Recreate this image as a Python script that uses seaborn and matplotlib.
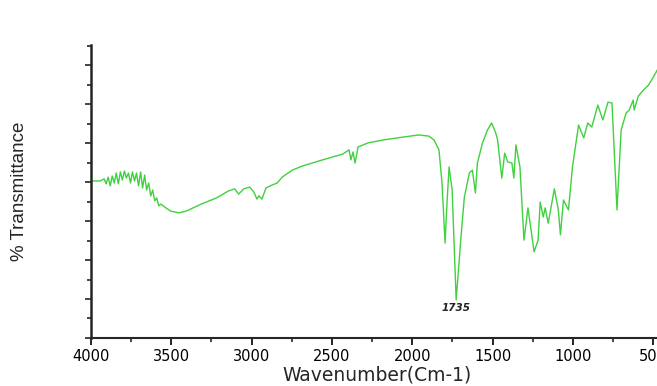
import numpy as np
import pandas as pd
import seaborn as sns
import matplotlib.pyplot as plt

# FTIR spectrum
wavenumber = [4000, 3943, 3918, 3906, 3893, 3880, 3868, 3855, 3843, 3830, 3817, 3805, 3792, 3780,
              3767, 3754, 3742, 3729, 3717, 3704, 3691, 3679, 3666, 3654, 3641, 3628, 3616, 3603,
              3591, 3578, 3565, 3534, 3503, 3452, 3408, 3314, 3219, 3144, 3106, 3081, 3049, 3011,
              2986, 2967, 2955, 2936, 2911, 2873, 2841, 2810, 2747, 2684, 2558, 2432, 2394, 2382,
              2369, 2356, 2338, 2275, 2180, 2054, 1960, 1897, 1865, 1834, 1815, 1796, 1783, 1771,
              1752, 1727, 1695, 1676, 1645, 1626, 1607, 1595, 1563, 1532, 1506, 1481, 1469, 1443,
              1425, 1406, 1380, 1368, 1355, 1330, 1305, 1280, 1242, 1217, 1204, 1185, 1173, 1154,
              1116, 1091, 1078, 1059, 1028, 1003, 965, 933, 908, 883, 845, 814, 782, 757, 726, 700,
              669, 650, 625, 619, 593, 562, 530, 499, 468, 436]
transmittance = [53.6, 53.6, 54.3, 52.6, 54.9, 51.9, 55.3, 52.9, 56.3, 52.6, 56.7, 53.9, 57.0, 54.6,
                 56.3, 52.9, 56.7, 53.6, 56.3, 51.9, 56.7, 51.2, 55.6, 50.5, 52.9, 48.5, 50.5, 46.8,
                 47.8, 45.1, 45.7, 44.4, 43.3, 42.7, 43.3, 45.7, 47.8, 50.2, 50.9, 49.1, 50.9, 51.5,
                 49.8, 47.4, 48.5, 47.4, 51.2, 52.2, 52.9, 54.9, 57.3, 58.7, 60.8, 62.8, 64.2, 60.8,
                 63.5, 59.7, 65.2, 66.6, 67.6, 68.6, 69.3, 68.9, 67.6, 64.2, 52.9, 32.4, 47.1, 58.4,
                 50.5, 13.0, 35.8, 48.1, 56.3, 57.3, 49.5, 59.7, 66.6, 71.0, 73.4, 70.0, 67.6, 54.6,
                 63.1, 60.1, 59.7, 54.6, 65.9, 58.4, 33.4, 44.4, 29.4, 33.4, 46.4, 41.3, 44.4, 39.2,
                 50.9, 43.7, 35.2, 47.1, 43.7, 58.4, 72.7, 68.3, 73.4, 72.0, 79.5, 74.4, 80.5, 80.2,
                 43.7, 71.0, 76.8, 77.8, 81.2, 77.8, 82.6, 84.6, 86.3, 89.1, 92.2, 94.2]

peak_label = "1735"
peak_pos = (1727, 13.0)

df = pd.DataFrame({"wavenumber": wavenumber, "T": transmittance})

sns.set_style("ticks")
plt.rcParams['font.family'] = ['DejaVu Sans']

fig = plt.figure(figsize=(6.57, 3.86), dpi=100)
ax = fig.add_axes([0.1385, 0.1244, 0.8715, 0.759])

sns.lineplot(data=df, x="wavenumber", y="T", sort=False, color="#3fd13f", linewidth=1.0, ax=ax)

ax.set_xlim(4000, 436)
ax.set_ylim(0, 100)
ax.set_xticks([4000, 3500, 3000, 2500, 2000, 1500, 1000, 500])
ax.set_xticks(np.arange(3750, 400, -500), minor=True)
ax.set_yticks(np.arange(0, 101, 13.3))
ax.set_yticks(np.arange(6.65, 100, 13.3), minor=True)
ax.set_yticklabels([])
ax.tick_params(axis='x', which='major', length=5, width=1.2, labelsize=10.5, colors='black', pad=3)
ax.tick_params(axis='x', which='minor', length=3, width=1.2)
ax.tick_params(axis='y', which='major', length=4, width=1.2)
ax.tick_params(axis='y', which='minor', length=3, width=1.2)

for s in ['top', 'right']:
    ax.spines[s].set_visible(False)
ax.spines['left'].set_linewidth(1.8)
ax.spines['bottom'].set_linewidth(1.5)

ax.set_xlabel("Wavenumber(Cm-1)", fontsize=13.5, labelpad=1)
ax.set_ylabel("% Transmittance", fontsize=13.5, labelpad=38,
              fontfamily=['Liberation Sans', 'DejaVu Sans'])

ax.annotate(peak_label, xy=peak_pos, xytext=(0, -2), textcoords='offset points',
            ha='center', va='top', fontsize=7.5, fontstyle='italic', fontweight='bold',
            color='#222222')

fig.savefig("out.png", dpi=100)
